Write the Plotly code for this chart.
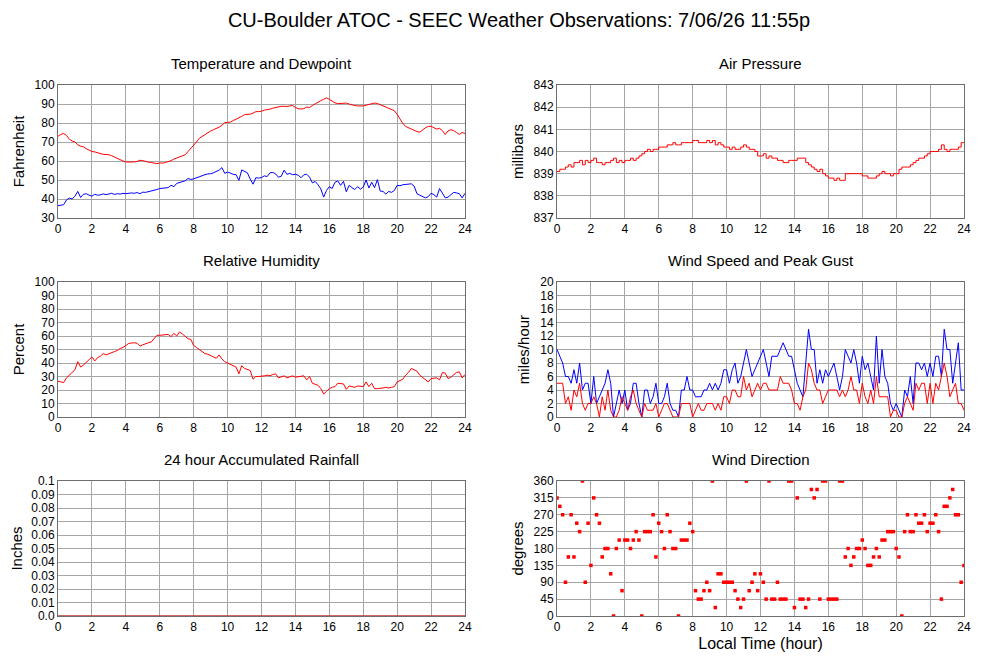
import plotly.graph_objects as go

# 10-minute samples, 0..24 h
hours = [i / 6 for i in range(145)]

temperature = [
    73.0, 74.0, 74.5, 73.5, 71.5, 70.5, 70.0, 68.5, 67.8, 67.5, 66.5, 65.8,
    65.0, 64.8, 64.3, 63.8, 63.5, 63.4, 63.3, 62.8, 62.0, 61.2, 60.5, 60.0,
    59.5, 59.4, 59.5, 59.5, 59.8, 60.4, 60.2, 59.6, 59.4, 59.2, 58.8, 58.6,
    59.0, 58.9, 59.2, 59.6, 60.2, 61.0, 61.6, 62.0, 62.4, 63.3, 65.0, 66.5,
    68.2, 70.0, 72.0, 73.0, 74.0, 75.0, 75.8, 76.5, 77.0, 77.8, 78.8, 80.2,
    80.3, 80.5, 81.3, 82.0, 82.5, 83.5, 84.4, 84.5, 84.7, 85.2, 86.0, 86.0,
    86.2, 86.8, 87.0, 87.3, 87.8, 88.2, 88.6, 88.8, 88.8, 88.7, 89.0, 89.2,
    88.2, 87.5, 87.4, 87.6, 88.4, 88.2, 89.2, 90.2, 91.0, 91.8, 92.5, 93.2,
    92.5, 91.5, 90.6, 90.2, 90.3, 90.3, 90.5, 90.0, 89.5, 89.2, 89.0, 89.0,
    89.0, 89.4, 89.7, 90.0, 90.5, 90.3, 89.6, 88.9, 88.3, 87.8, 87.2, 86.5,
    84.5, 82.0, 79.8, 78.2, 77.5, 76.8, 76.2, 75.5, 75.2, 76.5, 77.5, 78.2,
    78.3, 77.5, 76.8, 77.2, 76.0, 74.0, 75.8, 76.5, 76.0, 75.0, 74.0, 75.0,
    74.5,
]

dewpoint = [
    36.5, 36.8, 37.0, 39.5, 40.5, 40.0, 41.5, 44.0, 40.8, 42.5, 42.8, 42.0,
    41.5, 42.5, 42.0, 42.2, 42.7, 42.3, 42.5, 43.0, 42.4, 42.8, 42.6, 43.0,
    42.8, 43.0, 43.2, 43.0, 43.4, 42.8, 43.6, 43.5, 43.8, 44.2, 44.5, 45.0,
    45.5, 45.6, 45.8, 46.0, 47.2, 46.5, 48.2, 48.8, 49.2, 49.6, 50.8, 50.3,
    50.6, 51.2, 52.0, 52.3, 52.8, 53.2, 53.3, 53.8, 54.5, 55.2, 56.5, 53.5,
    54.2, 53.5, 53.0, 52.8, 49.8, 55.3, 54.5, 53.8, 50.5, 47.8, 51.2, 51.0,
    51.3, 52.2, 51.8, 53.8, 54.0, 53.2, 51.5, 52.0, 55.2, 53.0, 53.5, 52.8,
    53.0, 52.5, 51.2, 52.8, 53.0, 51.5, 48.5, 49.2, 47.5, 45.3, 41.0, 44.5,
    46.5, 45.5, 48.8, 49.5, 47.2, 49.3, 43.8, 47.2, 46.0, 45.0, 46.5, 45.2,
    46.3, 50.0, 45.8, 48.8, 46.0, 50.2, 44.2, 44.0, 42.6, 44.0, 43.5, 44.5,
    47.2, 47.0, 47.5, 47.6, 47.8, 48.0, 46.8, 42.8, 42.0, 41.2, 40.6, 41.2,
    43.0, 42.3, 41.0, 45.5, 43.2, 40.6, 41.0, 42.5, 43.5, 43.2, 42.8, 40.6,
    43.0,
]

pressure = [
    839.1, 839.2, 839.2, 839.3, 839.4, 839.3, 839.5, 839.5, 839.6, 839.4,
    839.6, 839.5, 839.6, 839.7, 839.5, 839.5, 839.4, 839.5, 839.5, 839.6,
    839.7, 839.5, 839.6, 839.5, 839.6, 839.6, 839.7, 839.6, 839.7, 839.8,
    839.9, 840.0, 840.1, 840.0, 840.1, 840.1, 840.2, 840.2, 840.2, 840.3,
    840.3, 840.4, 840.3, 840.3, 840.4, 840.4, 840.4, 840.4, 840.5, 840.5,
    840.4, 840.4, 840.4, 840.5, 840.4, 840.5, 840.3, 840.4, 840.3, 840.2,
    840.2, 840.1, 840.2, 840.1, 840.1, 840.2, 840.3, 840.2, 840.1, 840.1,
    840.0, 839.8, 839.8, 839.9, 839.7, 839.8, 839.7, 839.7, 839.6, 839.6,
    839.5, 839.5, 839.6, 839.6, 839.6, 839.7, 839.7, 839.7, 839.5, 839.4,
    839.3, 839.2, 839.1, 839.2, 839.0, 838.9, 838.8, 838.8, 838.7, 838.8,
    838.7, 838.7, 839.0, 839.0, 839.0, 839.0, 839.0, 839.0, 838.9, 838.9,
    838.8, 838.8, 838.8, 838.9, 839.0, 839.1, 839.0, 839.0, 838.9, 839.0,
    839.0, 839.2, 839.3, 839.3, 839.3, 839.4, 839.5, 839.6, 839.7, 839.7,
    839.8, 839.9, 840.0, 840.0, 840.0, 840.1, 840.3, 840.1, 840.0, 840.1,
    840.1, 840.1, 840.2, 840.4, 840.4,
]

humidity = [
    26.5, 26.0, 25.5, 29.0, 31.0, 32.5, 35.0, 41.0, 37.0, 38.5, 40.5, 42.0,
    44.5, 41.5, 44.0, 45.0, 47.0, 46.0, 47.0, 48.0, 48.5, 49.2, 50.8, 51.5,
    53.0, 54.5, 54.8, 55.0, 54.6, 52.5, 53.5, 54.5, 55.0, 55.6, 58.0, 60.5,
    60.5, 60.8, 61.0, 61.2, 59.5, 62.0, 60.0, 63.0, 61.5, 60.0, 58.0, 57.5,
    53.0, 51.5, 50.0, 48.0, 47.0, 46.5, 45.5, 45.0, 43.5, 46.0, 43.0, 41.0,
    40.0, 39.0, 37.5, 37.0, 32.0, 38.0, 36.0, 35.0, 34.5, 28.0, 30.0, 30.0,
    30.0, 30.5, 31.0, 30.5, 31.5, 32.0, 29.0, 29.5, 30.5, 29.0, 30.0, 30.5,
    29.5, 29.8, 30.0, 30.5, 27.5, 30.0, 25.0, 24.5, 23.5, 21.0, 17.0, 19.0,
    21.0, 22.0, 22.5, 25.0, 24.8, 24.5, 20.5, 23.0, 22.5, 22.0, 23.0, 23.0,
    22.5, 26.0, 22.5, 25.0, 21.0, 21.0, 21.0, 21.5, 22.0, 21.5, 22.0, 22.5,
    26.0, 27.0, 28.0, 31.0, 33.0, 36.0, 35.0, 34.0, 31.0, 29.5, 28.0, 26.0,
    28.5, 29.0, 29.0, 27.5, 33.0, 32.5, 28.5, 29.5, 31.0, 33.0, 33.5, 29.0,
    31.5,
]

wind_speed = [
    5, 5, 5, 2, 3, 1, 4, 3, 5, 2, 1, 2, 2, 3, 2, 0, 3, 1, 4, 1, 0, 0, 1, 3,
    2, 1, 3, 4, 2, 1, 0, 2, 1, 1, 1, 2, 0, 1, 2, 2, 1, 0, 0, 0, 2, 2, 2, 2,
    0, 1, 2, 1, 1, 2, 2, 2, 1, 2, 1, 3, 3, 2, 4, 4, 3, 3, 6, 4, 5, 3, 4, 5,
    4, 5, 5, 4, 4, 4, 4, 6, 5, 5, 5, 4, 2, 2, 1, 3, 4, 8, 7, 5, 4, 4, 2, 3,
    4, 4, 4, 4, 3, 4, 3, 4, 6, 4, 4, 2, 5, 3, 2, 4, 2, 6, 3, 3, 3, 3, 0, 1,
    1, 0, 0, 2, 3, 2, 1, 5, 4, 5, 5, 2, 5, 2, 5, 4, 6, 8, 6, 3, 4, 5, 2, 2,
    1,
]

wind_gust = [
    10, 9, 8, 6, 6, 5, 7, 5, 8, 4, 5, 5, 2, 6, 2, 3, 4, 5, 7, 5, 0, 2, 4, 2,
    4, 1, 2, 5, 5, 2, 0, 4, 4, 2, 3, 5, 2, 2, 3, 5, 2, 1, 1, 0, 4, 4, 6, 4,
    4, 3, 3, 3, 4, 4, 5, 4, 5, 4, 5, 7, 7, 5, 7, 8, 5, 6, 8, 10, 8, 6, 7, 8,
    9, 10, 8, 6, 9, 9, 9, 10, 11, 10, 9, 9, 7, 5, 4, 3, 8, 13, 10, 10, 5, 7,
    5, 7, 6, 7, 8, 6, 4, 6, 10, 9, 8, 10, 8, 5, 9, 7, 8, 6, 4, 12, 5, 10, 6,
    5, 2, 1, 2, 1, 0, 4, 3, 6, 2, 8, 8, 7, 8, 6, 8, 6, 9, 9, 6, 13, 10, 10,
    5, 8, 11, 4, 4,
]

rainfall = [0.0] * 145

wind_direction = [
    315, 292.5, 270, 90, 157.5, 270, 157.5, 247.5, 225, 360, 90, 247.5,
    135, 315, 270, 247.5, 157.5, 180, 180, 112.5, 0, 180, 202.5, 67.5,
    202.5, 202.5, 180, 202.5, 225, 202.5, 0, 225, 225, 225, 270, 157.5,
    247.5, 225, 180, 270, 225, 180, 180, 0, 202.5, 202.5, 202.5, 247.5,
    225, 67.5, 45, 45, 67.5, 90, 67.5, 360, 22.5, 112.5, 112.5, 90,
    90, 90, 90, 67.5, 45, 22.5, 45, 360, 67.5, 90, 112.5, 67.5,
    112.5, 90, 45, 360, 45, 45, 90, 45, 45, 45, 360, 360,
    22.5, 315, 45, 45, 22.5, 45, 337.5, 315, 337.5, 45, 360, 360,
    45, 45, 45, 45, 360, 360, 157.5, 180, 135, 157.5, 180, 180,
    202.5, 180, 135, 135, 157.5, 180, 157.5, 202.5, 202.5, 225, 225, 225,
    180, 157.5, 0, 225, 270, 225, 225, 270, 247.5, 247.5, 270, 225,
    247.5, 247.5, 270, 225, 45, 292.5, 292.5, 315, 337.5, 270, 270, 90,
    135,
]

hour_ticks = list(range(0, 25, 2))
rain_ticks = [0.0, 0.01, 0.02, 0.03, 0.04, 0.05, 0.06, 0.07, 0.08, 0.09, 0.1]
rain_labels = ["0.0", "0.01", "0.02", "0.03", "0.04", "0.05", "0.06",
               "0.07", "0.08", "0.09", "0.1"]

FONT = "Liberation Sans, Arial, sans-serif"
RED = "#ff0000"
BLUE = "#0000ff"
GRID = "#a6a6a6"
FRAME = "#6e6e6e"

fig = go.Figure()

line = dict(width=1)
fig.add_trace(go.Scatter(x=hours, y=temperature, mode="lines",
                         line=dict(color=RED, **line), xaxis="x", yaxis="y"))
fig.add_trace(go.Scatter(x=hours, y=dewpoint, mode="lines",
                         line=dict(color=BLUE, **line), xaxis="x", yaxis="y"))
fig.add_trace(go.Scatter(x=hours, y=pressure, mode="lines", line_shape="hv",
                         line=dict(color=RED, **line), xaxis="x2", yaxis="y2"))
fig.add_trace(go.Scatter(x=hours, y=humidity, mode="lines",
                         line=dict(color=RED, **line), xaxis="x3", yaxis="y3"))
fig.add_trace(go.Scatter(x=hours, y=wind_gust, mode="lines",
                         line=dict(color=BLUE, **line), xaxis="x4", yaxis="y4"))
fig.add_trace(go.Scatter(x=hours, y=wind_speed, mode="lines",
                         line=dict(color=RED, **line), xaxis="x4", yaxis="y4"))
fig.add_trace(go.Scatter(x=hours, y=rainfall, mode="lines",
                         line=dict(color="#c0392b", width=1.5),
                         xaxis="x5", yaxis="y5"))
fig.add_trace(go.Scatter(x=hours, y=wind_direction, mode="markers",
                         marker=dict(color=RED, size=3.5, symbol="square",
                                     line=dict(width=0)),
                         xaxis="x6", yaxis="y6"))

# panel boxes in paper coords (no margins; the page body adds an 8 px offset)
left_dom = [0.050, 0.457]
right_dom = [0.549, 0.956]
rows = [[0.6818, 0.8833], [0.3803, 0.5848], [0.0788, 0.2833]]

axis_common = dict(
    showgrid=True, gridcolor=GRID, gridwidth=1,
    showline=True, linecolor=FRAME, linewidth=1, mirror=True,
    zeroline=False, ticks="", tickfont=dict(size=12, color="black"),
    fixedrange=True, automargin=False,
)


def xax(dom, anchor, title=None):
    d = dict(axis_common, domain=dom, anchor=anchor, range=[0, 24],
             tickvals=hour_ticks)
    if title:
        d["title"] = dict(text=title, font=dict(size=16), standoff=4)
    return d


def yax(dom, anchor, rng, title, **kw):
    d = dict(axis_common, domain=dom, anchor=anchor, range=rng,
             title=dict(text=title, font=dict(size=15), standoff=6))
    d.update(kw)
    return d


fig.update_layout(
    width=1000, height=660,
    margin=dict(l=0, r=0, t=0, b=0, autoexpand=False),
    paper_bgcolor="white", plot_bgcolor="white",
    showlegend=False,
    font=dict(family=FONT, color="black"),
    title=dict(text="CU-Boulder ATOC - SEEC Weather Observations: 7/06/26 11:55p",
               x=0.511, xanchor="center", y=0.982, yanchor="middle",
               font=dict(size=20)),
    xaxis=xax(left_dom, "y"),
    yaxis=yax(rows[0], "x", [30, 100], "Fahrenheit", dtick=10),
    xaxis2=xax(right_dom, "y2"),
    yaxis2=yax(rows[0], "x2", [837, 843], "millibars", dtick=1),
    xaxis3=xax(left_dom, "y3"),
    yaxis3=yax(rows[1], "x3", [0, 100], "Percent", dtick=10),
    xaxis4=xax(right_dom, "y4"),
    yaxis4=yax(rows[1], "x4", [0, 20], "miles/hour", dtick=2),
    xaxis5=xax(left_dom, "y5"),
    yaxis5=yax(rows[2], "x5", [0, 0.1], "Inches",
               tickvals=rain_ticks, ticktext=rain_labels),
    xaxis6=xax(right_dom, "y6", title="Local Time (hour)"),
    yaxis6=yax(rows[2], "x6", [0, 360], "degrees", dtick=45),
)

panel_titles = [
    ("Temperature and Dewpoint", sum(left_dom) / 2, rows[0][1]),
    ("Air Pressure", sum(right_dom) / 2, rows[0][1]),
    ("Relative Humidity", sum(left_dom) / 2, rows[1][1]),
    ("Wind Speed and Peak Gust", sum(right_dom) / 2, rows[1][1]),
    ("24 hour Accumulated Rainfall", sum(left_dom) / 2, rows[2][1]),
    ("Wind Direction", sum(right_dom) / 2, rows[2][1]),
]
for text, x, y in panel_titles:
    fig.add_annotation(text=text, x=x, y=y, xref="paper", yref="paper",
                       xanchor="center", yanchor="bottom", yshift=11,
                       showarrow=False, font=dict(size=15))

fig.write_html("out.html")
